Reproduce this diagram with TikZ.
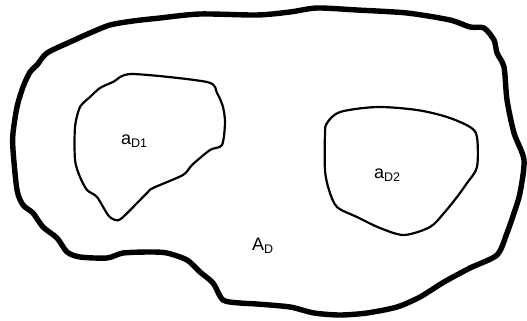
\documentclass[tikz,border=0pt]{standalone}
\usepackage{fontspec}
\setmainfont{Liberation Sans}
\usepackage{tikz}
\usetikzlibrary{positioning}

\tikzset{
  outerline/.style={draw=black,line width=5.4pt,line cap=round,line join=round},
  innerline/.style={draw=black,line width=2.2pt,line cap=round,line join=round},
  arealabel/.style={font=\fontsize{18}{18}\selectfont,inner sep=0pt,anchor=base west}
}
\newcommand{\sublbl}[2]{#1{\fontsize{12.5}{12.5}\selectfont\raisebox{-0.25em}{#2}}}

\begin{document}
\begin{tikzpicture}[x=1pt,y=-1pt,line cap=round,line join=round]
\path[use as bounding box] (0,0) rectangle (527,321);
% outer region
\draw[outerline] plot[smooth cycle,tension=0.45] coordinates {
  (257,15) (290,12) (317,8) (357,10) (407,13) (450,20) (470,27) (484,28)
  (494,40) (497,53) (504,67) (507,100) (514,133) (524,160) (520,193) (514,213)
  (507,233) (497,255) (470,268) (444,282) (420,297) (397,307) (367,313) (340,315)
  (314,313) (290,307) (257,304) (240,303) (223,300) (213,283) (200,272) (187,260)
  (167,253) (150,252) (123,253) (107,258) (80,257) (67,252) (57,238) (43,227)
  (33,213) (23,205) (17,190) (13,150) (13,133) (17,107) (23,87) (30,72)
  (37,65) (47,53) (70,42) (90,33) (110,25) (133,21) (160,18) (200,14)};
% first inner region
\draw[innerline] plot[smooth cycle,tension=0.45] coordinates {
  (132,74) (207,82) (217,93) (223,107) (225,123) (222,145) (210,150) (192,165)
  (183,175) (153,188) (147,193) (122,218) (115,220) (108,215) (97,197) (87,190)
  (80,177) (75,160) (75,127) (80,107) (90,97) (100,88) (113,82)};
% second inner region
\draw[innerline] plot[smooth cycle,tension=0.5] coordinates {
  (377,107) (417,110) (447,117) (470,127) (477,137) (477,167) (467,183) (457,197)
  (444,213) (430,227) (404,235) (380,228) (357,217) (337,207) (329,190) (325,170)
  (325,133) (327,123) (340,112)};
\node[arealabel] (aD1) at (121,144) {\sublbl{a}{D1}};
\node[arealabel] (aD2) at (374,178) {\sublbl{a}{D2}};
\node[arealabel] (AD) at (252,250) {\sublbl{A}{D}};
\end{tikzpicture}
\end{document}
